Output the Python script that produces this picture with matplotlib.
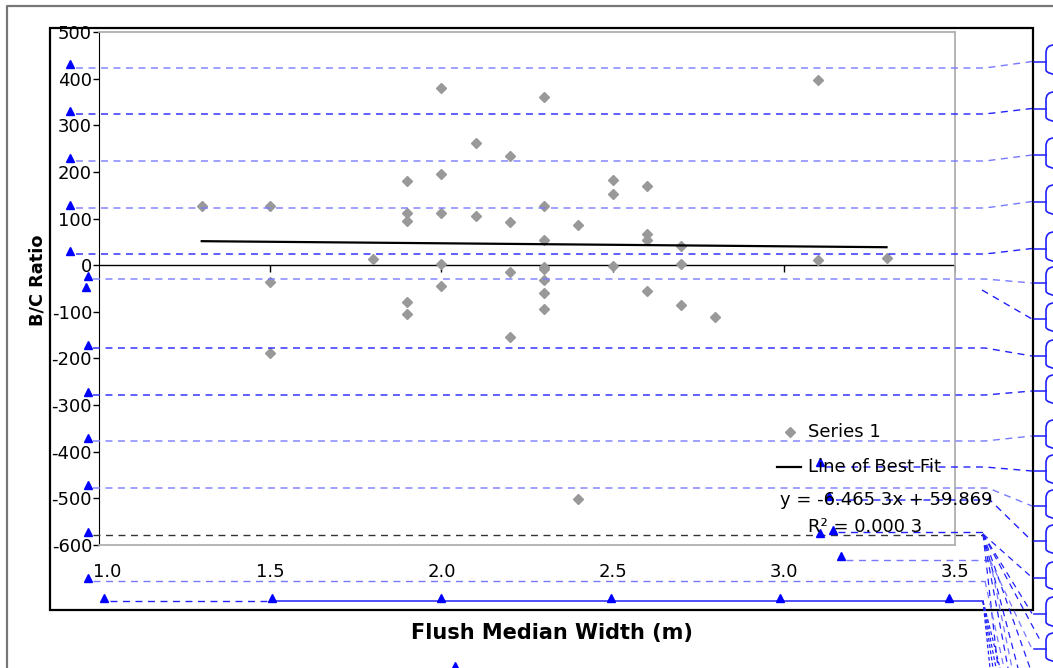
import numpy as np
import matplotlib.pyplot as plt
import matplotlib.transforms as mtransforms
from matplotlib.patches import FancyBboxPatch, Rectangle

plt.rcParams['axes.unicode_minus'] = False
plt.rcParams['font.family'] = 'DejaVu Sans'

# scatter data
width_m = [1.3, 1.5, 1.5, 1.5, 1.8,
           1.9, 1.9, 1.9, 1.9, 1.9,
           2.0, 2.0, 2.0, 2.0, 2.0,
           2.1, 2.1,
           2.2, 2.2, 2.2, 2.2,
           2.3, 2.3, 2.3, 2.3, 2.3, 2.3, 2.3, 2.3,
           2.4, 2.4,
           2.5, 2.5, 2.5,
           2.6, 2.6, 2.6, 2.6,
           2.7, 2.7, 2.7,
           2.8, 3.1, 3.1, 3.3]
bc_ratio = [127, 127, -36, -188, 13,
            180, 112, 95, -80, -105,
            379, 195, 111, 2, -44,
            262, 106,
            235, 93, -14, -154,
            361, 127, 55, -4, -9, -31, -59, -95,
            87, -501,
            182, 152, -2,
            170, 66, 55, -55,
            41, 2, -86,
            -112, 398, 11, 16]

slope = -6.4653
intercept = 59.869
r_squared = 0.0003

x_ticks = [1.0, 1.5, 2.0, 2.5, 3.0, 3.5]
x_tick_labels = ['1.0', '1.5', '2.0', '2.5', '3.0', '3.5']
y_ticks = [500, 400, 300, 200, 100, 0, -100, -200, -300, -400, -500, -600]
y_tick_labels = [str(v) for v in y_ticks]

W, H = 1053, 668
fig = plt.figure(figsize=(W / 100, H / 100), dpi=100)

# main chart, placed in pixels
left, right, top, bottom = 99, 955, 32, 545
ax = fig.add_axes([left / W, (H - bottom) / H, (right - left) / W, (bottom - top) / H])
ax.set_xlim(1.0, 3.5)
ax.set_ylim(-600, 500)

ax.plot(width_m, bc_ratio, ls='none', marker='D', ms=4.6, color='#999999', zorder=3)
fit_x = np.array([min(width_m), max(width_m)])
ax.plot(fit_x, slope * fit_x + intercept, color='black', lw=1.6, zorder=3)

ax.axhline(0, color='black', lw=1)
ax.plot(x_ticks[1:], [0] * (len(x_ticks) - 1), ls='none', marker=3, ms=5, mew=1, color='black')

ax.set_xticks(x_ticks)
ax.set_xticklabels(x_tick_labels)
ax.set_yticks(y_ticks)
ax.set_yticklabels(y_tick_labels)
ax.tick_params(axis='y', direction='out', length=4, width=1, labelsize=13, pad=1)
ax.tick_params(axis='x', length=0, labelsize=13, pad=13)
# the first x label sits a little right of the axis corner
first = ax.get_xticklabels()[0]
first.set_transform(first.get_transform() +
                    mtransforms.ScaledTranslation(8 / 100, 0, fig.dpi_scale_trans))
ax.spines['left'].set_color('black')
for s in ['top', 'right', 'bottom']:
    ax.spines[s].set_color('#b0b0b0')
    ax.spines[s].set_linewidth(1.3)

ax.set_xlabel('Flush Median Width (m)', fontsize=15, fontweight='bold')
ax.set_ylabel('B/C Ratio', fontsize=12.8, fontweight='bold')
ax.xaxis.set_label_coords((552 - left) / (right - left), -(633 - bottom) / (bottom - top))
ax.xaxis.label.set_va('center')
ax.yaxis.set_label_coords((38 - left) / (right - left), (bottom - 280) / (bottom - top))
ax.yaxis.label.set_va('center')

# overlay in pixel coordinates for frames, markup and legend
ov = fig.add_axes([0, 0, 1, 1], zorder=5)
ov.set_xlim(0, W)
ov.set_ylim(H, 0)
ov.axis('off')
ov.patch.set_alpha(0)

ov.plot([7, 7, W], [H, 6, 6], color='#777777', lw=1.6)
ov.add_patch(Rectangle((50, 28), 983, 582, fill=False, ec='black', lw=1.6))

dark = '#2020ff'
light = '#7878ff'
dash = (0, (5, 4))

boxes = [(45, 78), (92, 125), (138, 172), (185, 218), (232, 265), (267, 299),
         (303, 335), (340, 372), (375, 407), (420, 452), (455, 487), (490, 522),
         (525, 557), (562, 593), (597, 630), (633, 665)]
for t, b in boxes:
    ov.add_patch(FancyBboxPatch((1046, t), 80, b - t,
                                boxstyle='round,pad=0,rounding_size=8',
                                fill=False, ec=dark, lw=1.2, clip_on=False))
    ov.plot([1034, 1046], [(t + b) / 2, (t + b) / 2], color=dark, lw=1.1)

mid = [(t + b) / 2 for t, b in boxes]

# leaders: (start x, y, bend x, box index, colour)
leaders = [(76, 68, 985, 0, light), (76, 114, 985, 1, dark), (76, 161, 985, 2, light),
           (76, 208, 985, 3, light), (76, 254, 985, 4, dark), (93, 279, 985, 5, light),
           (93, 348, 985, 7, dark), (93, 395, 985, 8, dark), (93, 441, 985, 9, light),
           (826, 467, 985, 10, dark), (93, 488, 988, 11, light), (836, 500, 990, 12, dark)]
for x0, y0, xb, bi, c in leaders:
    ov.plot([x0, xb, 1032], [y0, y0, mid[bi]], color=c, lw=1, ls=dash)
ov.plot([982, 1032], [290, mid[6]], color=dark, lw=1, ls=dash)

ov.plot([93, 983], [535, 535], color='#333333', lw=1, ls=dash)
ov.plot([838, 983], [532, 532], color=dark, lw=1, ls=dash)
ov.plot([846, 990], [560, 560], color=light, lw=1, ls=dash)
ov.plot([93, 985], [581, 581], color=light, lw=1, ls=dash)
ov.plot([110, 272], [601, 601], color=dark, lw=1, ls=dash)
ov.plot([272, 983], [601, 601], color=dark, lw=1.1)

for ex, ey in [(1032, mid[13]), (1032, mid[14]), (1040, 640), (1030, 668),
               (1018, 668), (1008, 668), (998, 668)]:
    ov.plot([983, ex], [534, ey], color=dark, lw=0.9, ls=dash)
for ex, ey in [(1032, mid[15]), (1012, 668)]:
    ov.plot([990, ex], [560, ey], color=light, lw=0.9, ls=dash)
ov.plot([985, 1004], [581, 668], color=light, lw=0.9, ls=dash)
for ex in [990, 993, 996, 1000]:
    ov.plot([983, ex], [601, 668], color=dark, lw=0.9, ls=(0, (3, 2)))

tri_x = [70, 70, 70, 70, 70, 88, 86, 88, 88, 88, 88, 88, 88,
         104, 272, 441, 611, 780, 949, 820, 829, 820, 833, 841, 455]
tri_y = [64, 111, 158, 205, 251, 276, 287, 345, 392, 438, 485, 532, 578,
         598, 598, 598, 598, 598, 598, 462, 496, 533, 530, 556, 666]
ov.plot(tri_x, tri_y, ls='none', marker='^', ms=6, color='#0000ff', clip_on=False)

# legend and trendline label
ov.plot([790], [432], ls='none', marker='D', ms=4.6, color='#999999')
ov.text(808, 432, 'Series 1', fontsize=13, va='center', ha='left')
ov.plot([777, 801], [467, 467], color='black', lw=1.6)
ov.text(808, 467, 'Line of Best Fit', fontsize=13, va='center', ha='left')
s = f'{slope:.4f}'
ov.text(993, 500, f'y = {s[:-1]} {s[-1]}x + {intercept:.3f}', fontsize=13, va='center', ha='right')
r = f'{r_squared:.4f}'
ov.text(808, 527, f'R\u00b2 = {r[:-1]} {r[-1]}', fontsize=13, va='center', ha='left')

fig.savefig('out.png', dpi=100)
